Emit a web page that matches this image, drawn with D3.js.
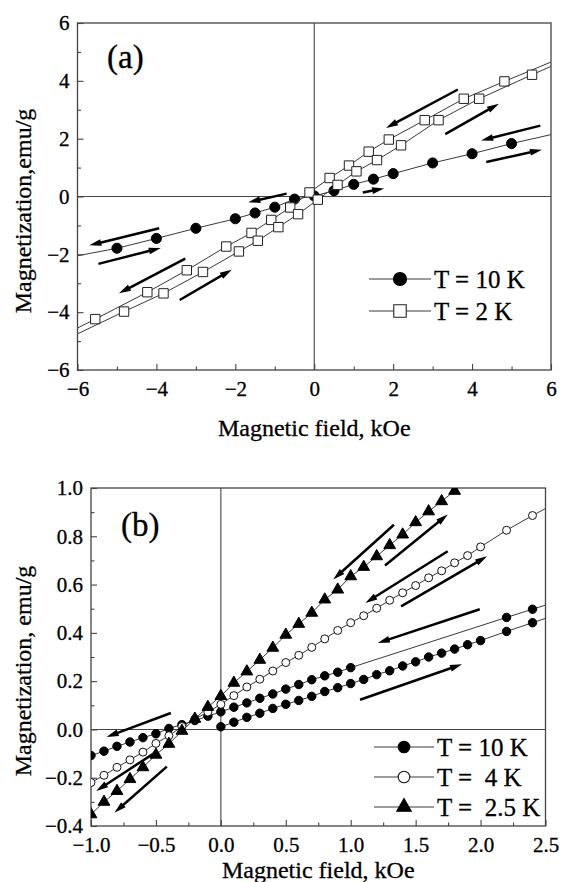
<!DOCTYPE html>
<html>
<head>
<meta charset="utf-8">
<script src="https://cdn.jsdelivr.net/npm/d3@7"></script>
<style>
  body { margin: 0; background: #fff; }
  svg text { font-family: "Liberation Serif", "Times New Roman", serif; fill: #000; stroke: #000; stroke-width: 0.3px; white-space: pre; }
</style>
</head>
<body>
<div id="chart"></div>
<script>
// ---------- panel (a) : field in kOe, magnetization in emu/g ----------
const a10H = [-5, -4, -3, -2, -1.5, -1, -0.5, 0, 0.5, 1, 1.5, 2, 3, 4, 5];
const a10M = [-1.79, -1.45, -1.1, -0.77, -0.57, -0.37, -0.09, 0.02, 0.2, 0.42, 0.6, 0.79, 1.16, 1.48, 1.83];
const a10EndH = [-6, 6];
const a10EndM = [-2.05, 2.14];

// T = 2 K, field going down (upper branch)
const a2DownH = [4.82, 3.79, 2.8, 1.89, 1.38, 0.88, 0.39, -0.12, -0.61, -1.09, -1.59, -2.23, -3.23, -4.23, -5.55];
const a2DownM = [3.98, 3.38, 2.64, 1.97, 1.55, 1.07, 0.64, 0.14, -0.38, -0.81, -1.26, -1.73, -2.55, -3.31, -4.24];
const a2DownEndH = [-6, 6];
const a2DownEndM = [-4.55, 4.65];
// T = 2 K, field going up (lower branch)
const a2UpH = [-4.82, -3.82, -2.82, -1.91, -1.43, -0.91, -0.41, 0.09, 0.59, 1.07, 1.59, 2.2, 3.15, 4.18, 5.52];
const a2UpM = [-3.98, -3.35, -2.61, -1.9, -1.53, -1.06, -0.61, -0.11, 0.4, 0.87, 1.26, 1.77, 2.64, 3.38, 4.21];
const a2UpEndH = [-6, 6];
const a2UpEndM = [-4.75, 4.5];

// arrows: [H1, M1, H2, M2], head at the second point
const arrowsA = [
    [3.64, 3.70, 1.82, 2.37],
    [3.32, 2.16, 4.68, 3.21],
    [5.73, 2.45, 4.23, 1.94],
    [4.36, 1.19, 5.77, 1.62],
    [1.23, 0.14, 1.77, 0.28],
    [-0.7, 0.1, -1.67, -0.2],
    [-3.93, -1.10, -5.70, -1.69],
    [-5.47, -2.33, -3.89, -1.78],
    [-3.27, -2.15, -4.95, -3.35],
    [-3.41, -3.58, -2.09, -2.53]
];

// ---------- panel (b) ----------
const b10DownH = [2.4, 2.2, 1.0, 0.9, 0.8, 0.7, 0.6, 0.5, 0.4, 0.3, 0.2, 0.1, 0.0,
    -0.1, -0.2, -0.3, -0.4, -0.5, -0.6, -0.7, -0.8, -0.9, -1.0];
const b10DownM = [0.498, 0.464, 0.256, 0.237, 0.222, 0.206, 0.186, 0.167, 0.147, 0.129, 0.11, 0.092, 0.073,
    0.055, 0.037, 0.02, 0.004, -0.018, -0.034, -0.052, -0.07, -0.09, -0.108];
const b10DownEndH = [2.5];
const b10DownEndM = [0.515];

const b10UpH = [0, 0.1, 0.2, 0.3, 0.4, 0.5, 0.6, 0.7, 0.8, 0.9, 1.0, 1.1, 1.2, 1.3, 1.4, 1.5,
    1.6, 1.7, 1.8, 1.9, 2.0, 2.2, 2.4];
const b10UpM = [0.011, 0.03, 0.05, 0.067, 0.087, 0.104, 0.12, 0.137, 0.157, 0.173, 0.19, 0.207, 0.227, 0.243, 0.263, 0.28,
    0.3, 0.316, 0.333, 0.351, 0.368, 0.406, 0.442];
const b10UpEndH = [2.5];
const b10UpEndM = [0.46];

const b4H = [-1.0, -0.9, -0.8, -0.7, -0.6, -0.5, -0.4, -0.3, -0.2, -0.1, 0, 0.1, 0.2, 0.3, 0.4, 0.5,
    0.6, 0.7, 0.8, 0.9, 1.0, 1.1, 1.2, 1.3, 1.4, 1.5, 1.6, 1.7, 1.8, 1.9, 2.0, 2.2, 2.4];
const b4M = [-0.22, -0.19, -0.157, -0.126, -0.094, -0.058, -0.026, 0.012, 0.043, 0.072, 0.104, 0.14, 0.176, 0.208, 0.242, 0.277,
    0.307, 0.34, 0.375, 0.41, 0.442, 0.471, 0.502, 0.535, 0.566, 0.596, 0.628, 0.657, 0.69, 0.72, 0.756, 0.825, 0.886];
const b4EndH = [2.5];
const b4EndM = [0.915];

const b25H = [-1.0, -0.9, -0.8, -0.7, -0.6, -0.5, -0.4, -0.3, -0.2, -0.1, 0, 0.1, 0.2, 0.3, 0.4,
    0.5, 0.6, 0.7, 0.8, 0.9, 1.0, 1.1, 1.2, 1.3, 1.4, 1.5, 1.6, 1.7, 1.8];
const b25M = [-0.352, -0.3, -0.255, -0.206, -0.157, -0.105, -0.06, -0.006, 0.044, 0.093, 0.138, 0.193, 0.24, 0.288, 0.338,
    0.392, 0.437, 0.483, 0.538, 0.579, 0.634, 0.673, 0.717, 0.763, 0.807, 0.858, 0.903, 0.945, 0.988];

const arrowsB = [
    [1.333, 0.848, 0.865, 0.621],
    [1.264, 0.679, 1.747, 0.89],
    [1.747, 0.738, 1.113, 0.524],
    [1.388, 0.51, 2.05, 0.717],
    [1.994, 0.498, 1.209, 0.358],
    [1.072, 0.123, 1.857, 0.27],
    [-0.385, 0.068, -0.88, -0.031],
    [-0.51, -0.097, -0.96, -0.255],
    [-0.416, -0.154, -0.82, -0.345]
];

const xTicksA = [-6, -4, -2, 0, 2, 4, 6];
const xMinorA = [-5, -3, -1, 1, 3, 5];
const yTicksA = [-6, -4, -2, 0, 2, 4, 6];
const yMinorA = [-5, -3, -1, 1, 3, 5];
const xTicksB = [-1.0, -0.5, 0.0, 0.5, 1.0, 1.5, 2.0, 2.5];
const xMinorB = [-0.75, -0.25, 0.25, 0.75, 1.25, 1.75, 2.25];
const yTicksB = [-0.4, -0.2, 0.0, 0.2, 0.4, 0.6, 0.8, 1.0];
const yMinorB = [-0.3, -0.1, 0.1, 0.3, 0.5, 0.7, 0.9];

const legendA = ["T = 10 K", "T = 2 K"];
const legendB = ["T = 10 K", "T =  4 K", "T =  2.5 K"];

// ---------------------------------------------------------------------
const W = 562, H = 882;
const svg = d3.select("#chart").append("svg").attr("width", W).attr("height", H);
const AX = "#444";

// marker look for each kind
function symbolOf(kind, big) {
    if (kind === "dot") return {type: d3.symbolCircle, size: big ? 135 : 80, fill: "#000", stroke: "#000"};
    if (kind === "dotB") return {type: d3.symbolCircle, size: big ? 105 : 56, fill: "#000", stroke: "#000"};
    if (kind === "ring") return {type: d3.symbolCircle, size: big ? 105 : 50, fill: "#fff", stroke: "#111"};
    if (kind === "square") return {type: d3.symbolSquare, size: big ? 155 : 88, fill: "#fff", stroke: "#222"};
    return {type: d3.symbolTriangle, size: big ? 92 : 60, fill: "#000", stroke: "#000"};
}

function drawPanel(cfg) {
    const x = d3.scaleLinear().domain(cfg.xDom).range([cfg.left, cfg.right]);
    const y = d3.scaleLinear().domain(cfg.yDom).range([cfg.bottom, cfg.top]);
    const g = svg.append("g");

    const clipId = "clip-" + cfg.name;
    svg.append("clipPath").attr("id", clipId)
        .append("rect")
        .attr("x", cfg.left).attr("y", cfg.top)
        .attr("width", cfg.right - cfg.left).attr("height", cfg.bottom - cfg.top);

    // zero lines
    g.append("line").attr("x1", x(0)).attr("x2", x(0)).attr("y1", cfg.top).attr("y2", cfg.bottom)
        .attr("stroke", AX).attr("stroke-width", 1.1);
    g.append("line").attr("x1", cfg.left).attr("x2", cfg.right).attr("y1", y(0)).attr("y2", y(0))
        .attr("stroke", AX).attr("stroke-width", 1.1);

    // axes, ticks inward
    const fmt = cfg.fmt;
    g.append("g").attr("transform", `translate(0,${cfg.bottom})`)
        .call(d3.axisBottom(x).tickValues(cfg.xTicks).tickSize(-6).tickPadding(11.5).tickFormat(fmt.x));
    g.append("g").attr("transform", `translate(0,${cfg.bottom})`)
        .call(d3.axisBottom(x).tickValues(cfg.xMinor).tickSize(-3.5).tickFormat(""));
    g.append("g").attr("transform", `translate(${cfg.left},0)`)
        .call(d3.axisLeft(y).tickValues(cfg.yTicks).tickSize(-6).tickPadding(8).tickFormat(fmt.y));
    g.append("g").attr("transform", `translate(${cfg.left},0)`)
        .call(d3.axisLeft(y).tickValues(cfg.yMinor).tickSize(-3.5).tickFormat(""));
    g.selectAll(".domain").remove();
    g.selectAll(".tick line").attr("stroke", AX).attr("stroke-width", 1.1);
    g.selectAll(".tick text").style("font-size", "21px");

    // frame
    g.append("rect").attr("x", cfg.left).attr("y", cfg.top)
        .attr("width", cfg.right - cfg.left).attr("height", cfg.bottom - cfg.top)
        .attr("fill", "none").attr("stroke", AX).attr("stroke-width", 1.3);

    // data
    const data = g.append("g").attr("clip-path", `url(#${clipId})`);
    const line = d3.line().x(d => x(d[0])).y(d => y(d[1]));
    cfg.series.forEach(s => {
        const pts = s.H.map((h, i) => [h, s.M[i]]);
        const ends = (s.endH || []).map((h, i) => [h, s.endM[i]]);
        const lp = pts.concat(ends).sort((p, q) => p[0] - q[0]);
        data.append("path").datum(lp).attr("d", line)
            .attr("fill", "none").attr("stroke", "#3a3a3a").attr("stroke-width", 1);
        const sym = symbolOf(s.kind, false);
        data.selectAll(null).data(pts).join("path")
            .attr("transform", d => `translate(${x(d[0])},${y(d[1])})`)
            .attr("d", d3.symbol(sym.type, sym.size))
            .attr("fill", sym.fill).attr("stroke", sym.stroke).attr("stroke-width", 1);
    });

    // arrows
    cfg.arrows.forEach(a => {
        const x1 = x(a[0]), y1 = y(a[1]), x2 = x(a[2]), y2 = y(a[3]);
        const len = Math.hypot(x2 - x1, y2 - y1);
        const ux = (x2 - x1) / len, uy = (y2 - y1) / len;
        g.append("line")
            .attr("x1", x1).attr("y1", y1)
            .attr("x2", x2 - ux * 6).attr("y2", y2 - uy * 6)
            .attr("stroke", "#000").attr("stroke-width", 2.5);
        const hl = 12, hw = 3.4;
        const bx = x2 - ux * hl, by = y2 - uy * hl;
        g.append("path")
            .attr("d", `M${x2},${y2}L${bx - uy * hw},${by + ux * hw}L${bx + uy * hw},${by - ux * hw}Z`)
            .attr("fill", "#000");
    });

    // legend
    const lg = g.append("g");
    cfg.legend.forEach((t, i) => {
        const ly = cfg.legY[i];
        lg.append("line").attr("x1", cfg.legX[0]).attr("x2", cfg.legX[1]).attr("y1", ly).attr("y2", ly)
            .attr("stroke", "#3a3a3a").attr("stroke-width", 1);
        const sym = symbolOf(cfg.legKind[i], true);
        lg.append("path").attr("transform", `translate(${(cfg.legX[0] + cfg.legX[1]) / 2},${ly})`)
            .attr("d", d3.symbol(sym.type, sym.size))
            .attr("fill", sym.fill).attr("stroke", sym.stroke).attr("stroke-width", 1.1);
        lg.append("text").attr("x", cfg.legX[1] + 3).attr("y", ly).attr("dy", "0.35em")
            .style("font-size", "25px").text(t);
    });

    // panel tag
    g.append("text").attr("x", cfg.tag[0]).attr("y", cfg.tag[1])
        .style("font-size", "33px").text(cfg.tagText);

    // axis titles
    g.append("text").attr("x", (cfg.left + cfg.right) / 2).attr("y", cfg.xTitleY)
        .attr("text-anchor", "middle").style("font-size", "24px").text("Magnetic field, kOe");
    g.append("text").attr("transform", `translate(31,${cfg.yTitleY}) rotate(-90)`)
        .attr("text-anchor", "middle").style("font-size", "24px").text(cfg.yTitle);
}

const intFmt = d3.format("d");
drawPanel({
    name: "a", xDom: [-6, 6], yDom: [-6, 6],
    left: 77.5, right: 551, top: 23, bottom: 370,
    xTicks: xTicksA, xMinor: xMinorA, yTicks: yTicksA, yMinor: yMinorA,
    fmt: {x: intFmt, y: intFmt},
    series: [
        {H: a10H, M: a10M, endH: a10EndH, endM: a10EndM, kind: "dot"},
        {H: a2DownH, M: a2DownM, endH: a2DownEndH, endM: a2DownEndM, kind: "square"},
        {H: a2UpH, M: a2UpM, endH: a2UpEndH, endM: a2UpEndM, kind: "square"}
    ],
    arrows: arrowsA,
    legend: legendA, legKind: ["dot", "square"], legX: [369, 431], legY: [279, 311],
    tag: [107, 68], tagText: "(a)",
    xTitleY: 436, yTitleY: 211, yTitle: "Magnetization,emu/g"
});

drawPanel({
    name: "b", xDom: [-1, 2.5], yDom: [-0.4, 1.0],
    left: 91, right: 545.5, top: 488, bottom: 826,
    xTicks: xTicksB, xMinor: xMinorB, yTicks: yTicksB, yMinor: yMinorB,
    fmt: {x: d3.format(".1f"), y: d3.format(".1f")},
    series: [
        {H: b10DownH, M: b10DownM, endH: b10DownEndH, endM: b10DownEndM, kind: "dotB"},
        {H: b10UpH, M: b10UpM, endH: b10UpEndH, endM: b10UpEndM, kind: "dotB"},
        {H: b4H, M: b4M, endH: b4EndH, endM: b4EndM, kind: "ring"},
        {H: b25H, M: b25M, kind: "tri"}
    ],
    arrows: arrowsB,
    legend: legendB, legKind: ["dotB", "ring", "tri"], legX: [374, 434], legY: [747, 777, 807],
    tag: [121, 536], tagText: "(b)",
    xTitleY: 878, yTitleY: 671, yTitle: "Magnetization, emu/g"
});
</script>
</body>
</html>
